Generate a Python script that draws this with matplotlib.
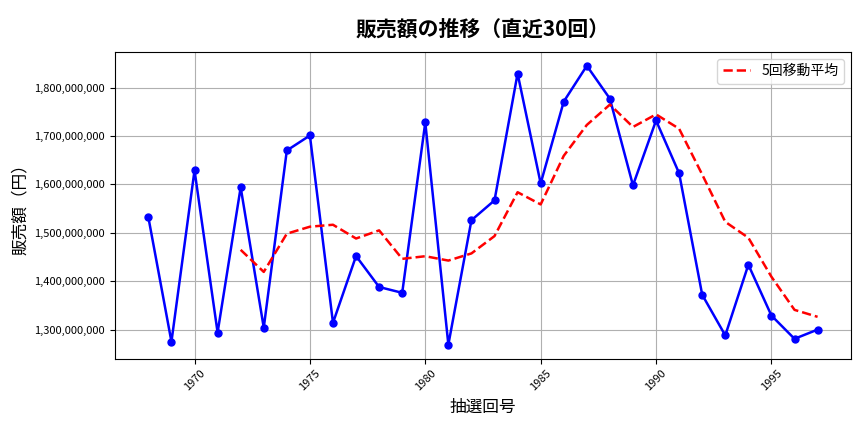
import matplotlib
matplotlib.use("Agg")
import matplotlib.pyplot as plt
import matplotlib.ticker as mticker
import pandas as pd

plt.rcParams['font.family'] = ['Noto Sans CJK JP', 'DejaVu Sans']

draws = list(range(1968, 1998))
sales = [1532, 1275, 1629, 1294, 1594, 1304, 1670, 1701, 1314, 1452,
         1388, 1376, 1728, 1269, 1526, 1567, 1829, 1602, 1771, 1845,
         1777, 1598, 1732, 1623, 1372, 1288, 1434, 1329, 1281, 1300]
sales = [v * 1_000_000 for v in sales]
ma = pd.Series(sales).rolling(5).mean()

fig, ax = plt.subplots(figsize=(8.64, 4.32), dpi=100)
ax.plot(draws, sales, color='blue', marker='o', markersize=5, linewidth=1.8)
ax.plot(draws, ma, color='red', linestyle='--', linewidth=1.8, label='5回移動平均')
ax.set_title('販売額の推移（直近30回）', fontsize=15, fontweight='bold', pad=12)
ax.set_xlabel('抽選回号', fontsize=12)
ax.set_ylabel('販売額（円）', fontsize=12)
ax.yaxis.set_major_formatter(mticker.FuncFormatter(lambda v, p: f'{int(v):,}'))
ax.tick_params(axis='y', labelsize=8)
ax.tick_params(axis='x', labelsize=8, rotation=45)
ax.grid(True, color='#b0b0b0', linewidth=0.8)
ax.legend(loc='upper right', fontsize=10)
fig.subplots_adjust(left=0.133, right=0.985, top=0.88, bottom=0.17)
fig.savefig('out.png')
